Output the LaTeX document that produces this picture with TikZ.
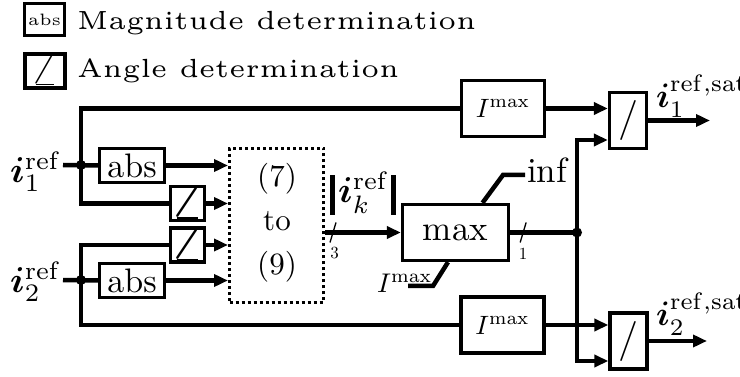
\documentclass[tikz,border=0pt]{standalone}
\usepackage{amsmath,bm,graphicx}
\usetikzlibrary{arrows.meta,calc}
% text set at a fixed design size and scaled up as a whole
\newcommand\sctxt[2]{\scalebox{#1}{\fontsize{10}{12}\selectfont #2}}
\newcommand\smtxt[2]{\scalebox{#1}{\fontsize{5}{6}\selectfont #2}}

\begin{document}
\begin{tikzpicture}[x=1pt,y=-1pt,
  wire/.style={line width=4.5pt},
  arr/.style={wire,-{Triangle[length=14pt,width=12pt]}},
  blk/.style={draw,line width=3.3pt,inner sep=0pt},
  jdot/.style={circle,fill,inner sep=0pt,minimum size=10pt},
  tick/.style={line width=1.3pt},
  lab/.style={anchor=base west,inner sep=0pt}
]
\useasboundingbox (0,0) rectangle (740,377);

% legend
\node[blk,minimum width=40pt,minimum height=32pt] (legabs) at (44.5,19.5) {\smtxt{3.3}{abs}};
\node[blk,minimum width=40pt,minimum height=34pt] (legang) at (45,71) {\sctxt{4.4}{$\angle$}};
\node[lab] (legmag) at (77,30) {\smtxt{5.25}{Magnitude determination}};
\node[lab] (legangt) at (77,78) {\smtxt{5.25}{Angle determination}};

% inputs
\node[lab] (lab1) at (10,183) {\sctxt{3.6}{$\bm{i}_1^{\mathrm{ref}}$}};
\node[lab] (lab2) at (10,293) {\sctxt{3.6}{$\bm{i}_2^{\mathrm{ref}}$}};
\coordinate (s1) at (63,165);
\coordinate (j1) at (81,165);
\coordinate (s2) at (63,280);
\coordinate (j2) at (81,280);

% blocks
\node[blk,minimum width=65pt,minimum height=34pt] (abs1) at (132,165.5) {\sctxt{3.4}{abs}};
\node[blk,minimum width=65pt,minimum height=34pt] (abs2) at (132,280.5) {\sctxt{3.4}{abs}};
\node[blk,minimum width=32pt,minimum height=34pt] (ang1) at (187.5,203.5) {\sctxt{4.7}{$\bm{\angle}$}};
\node[blk,minimum width=32pt,minimum height=34pt] (ang2) at (187.5,245) {\sctxt{4.7}{$\bm{\angle}$}};
\node[draw,line width=3pt,dash pattern=on 3pt off 3pt,minimum width=94pt,minimum height=154pt] (calc) at (276.5,225.5) {};
\node[anchor=base,inner sep=0pt] (e7) at (277,187) {\sctxt{3.1}{(7)}};
\node[anchor=base,inner sep=0pt] (eto) at (277,231) {\sctxt{3.1}{to}};
\node[anchor=base,inner sep=0pt] (e9) at (277,275) {\sctxt{3.1}{(9)}};

\node[blk,minimum width=106pt,minimum height=56pt] (mx) at (455.5,232.5) {\sctxt{3.5}{max}};
\node[blk,minimum width=83pt,minimum height=56pt] (im1) at (503,108.5) {\sctxt{2.65}{$I^{\mathrm{max}}$}};
\node[blk,minimum width=83pt,minimum height=56pt] (im2) at (502.5,325) {\sctxt{2.65}{$I^{\mathrm{max}}$}};
\node[blk,minimum width=37pt,minimum height=56pt] (dv1) at (628,120.5) {\sctxt{4}{/}};
\node[blk,minimum width=37pt,minimum height=56pt] (dv2) at (628.5,341) {\sctxt{4}{/}};

% labels
\node[lab] (nrm) at (330,203) {\vrule width 5pt height 28pt depth 12pt\kern3pt\sctxt{3.6}{$\bm{i}_k^{\mathrm{ref}}$}\kern1pt\vrule width 5pt height 28pt depth 12pt};
\node[inner sep=0pt] (n3) at (334.5,253) {\sctxt{1.7}{3}};
\node[inner sep=0pt] (n1) at (523,254) {\sctxt{1.7}{1}};
\node[lab] (inf) at (527,183) {\sctxt{3.5}{inf}};
\node[lab] (imlab) at (377,292) {\sctxt{2.7}{$I^{\mathrm{max}}$}};
\node[lab] (o1lab) at (656,108) {\sctxt{3.4}{$\bm{i}_1^{\mathrm{ref,sat}}$}};
\node[lab] (o2lab) at (656,326) {\sctxt{3.4}{$\bm{i}_2^{\mathrm{ref,sat}}$}};
\coordinate (o1) at (710,120.5);
\coordinate (o2) at (707,341);
\coordinate (jm) at (577,232.5);
\coordinate (infa) at (503,175);
\coordinate (infb) at (525,175);
\coordinate (ima) at (433,286);
\coordinate (imb) at (408,286);

% wiring of input 1
\draw[wire] (s1) -- (abs1.west);
\draw[wire] (j1) |- (im1.west);
\draw[wire] (j1) |- (ang1.west);
% wiring of input 2
\draw[wire] (s2) -- (abs2.west);
\draw[wire] (j2) |- (ang2.west);
\draw[wire] (j2) |- (im2.west);

\draw[arr] (abs1.east) -- (abs1.east -| calc.west);
\draw[arr] (ang1.east) -- (ang1.east -| calc.west);
\draw[arr] (ang2.east) -- (ang2.east -| calc.west);
\draw[arr] (abs2.east) -- (abs2.east -| calc.west);

\draw[arr] (calc.east |- mx.west) -- (mx.west);
\draw[tick] ($(calc.east |- mx.west)+(5,10)$) -- +(6,-20);

% limits of the max block
\draw[wire] ([xshift=27pt]mx.north) -- (infa) -- (infb);
\draw[wire] ([xshift=-7.5pt]mx.south) -- (ima) -- (imb);

\draw[wire] (mx.east) -- (jm);
\draw[tick] ($(mx.east)+(10,10)$) -- +(6,-20);
\draw[arr] (jm) |- ([yshift=-19.5pt]dv1.west);
\draw[arr] (jm) |- ([yshift=-20pt]dv2.west);
\draw[arr] (im1.east) -- (im1.east -| dv1.west);
\draw[arr] (im2.east) -- (im2.east -| dv2.west);
\draw[arr] (dv1.east) -- (o1);
\draw[arr] (dv2.east) -- (o2);

\node[jdot] (dj1) at (j1) {};
\node[jdot] (dj2) at (j2) {};
\node[jdot] (djm) at (jm) {};
\end{tikzpicture}
\end{document}
